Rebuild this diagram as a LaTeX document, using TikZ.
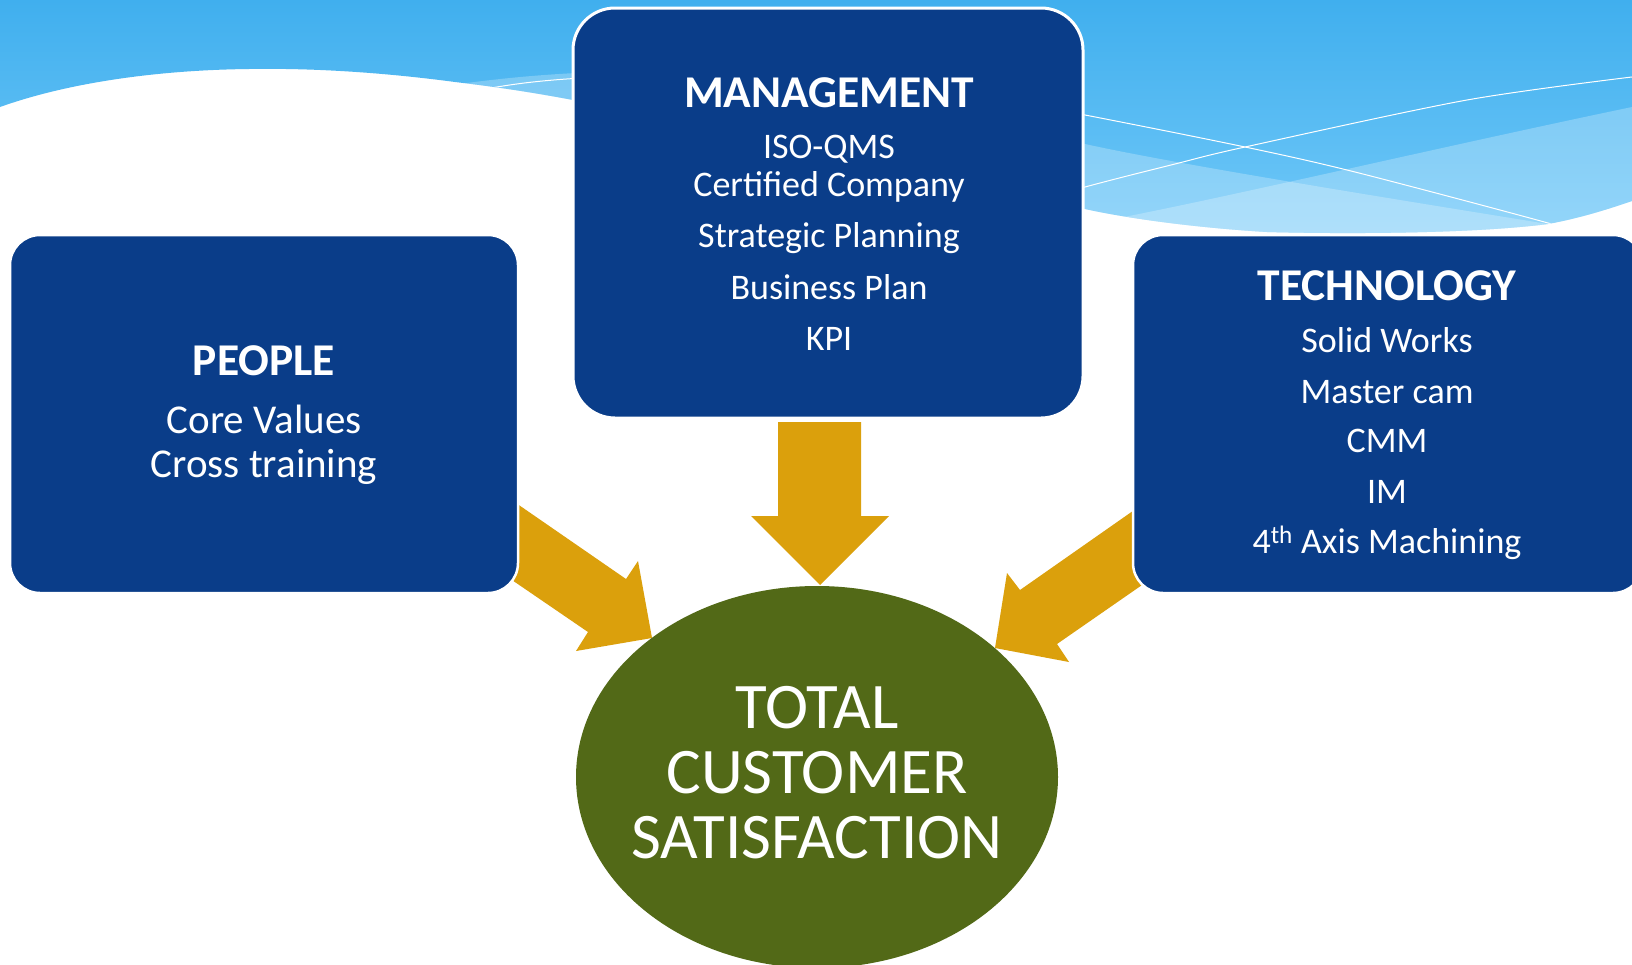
\documentclass[tikz,border=0pt]{standalone}
\usepackage{fontspec}
\setmainfont{Carlito}
\usetikzlibrary{shapes.geometric}
\definecolor{boxblue}{RGB}{10,61,137}
\definecolor{arrowgold}{RGB}{219,160,12}
\definecolor{tcsgreen}{RGB}{82,105,23}
\definecolor{skytop}{RGB}{64,175,238}
\definecolor{skybot}{RGB}{112,200,248}
\begin{document}
\begin{tikzpicture}[x=1pt,y=-1pt,
  box/.style={fill=boxblue, draw=white, line width=2.5pt, rounded corners=30pt, inner sep=0pt},
  head/.style={text=white, font=\fontsize{45.5}{54}\selectfont\bfseries, anchor=base, inner sep=0pt},
  item/.style={text=white, font=\fontsize{36}{43}\selectfont, anchor=base, inner sep=0pt},
  pitem/.style={text=white, font=\fontsize{41}{49}\selectfont, anchor=base, inner sep=0pt},
  big/.style={text=white, font=\fontsize{65}{68}\selectfont, anchor=base, inner sep=0pt},
  blockarrow/.style={fill=arrowgold},
  band/.style={fill=white, opacity=0.25},
  thin/.style={draw=white, line width=1pt}]
\useasboundingbox (0,0) rectangle (1632,964);
\clip (0,0) rectangle (1632,964);
\fill[white] (0,0) rectangle (1632,964);
\def\skypath{(0,0) -- (1632,0) -- (1632,201) .. controls (1600,212) and (1575,219) .. (1548,224) .. controls (1470,234) and (1340,234) .. (1267,232) .. controls (1200,228) and (1130,219) .. (1085,209) -- (573,100) .. controls (520,90) and (480,85) .. (455,82) .. controls (380,72) and (310,68) .. (249,69) .. controls (160,70) and (70,82) .. (0,107) -- cycle}
\shade[top color=skytop, bottom color=skybot] \skypath;
\begin{scope}
  \clip \skypath;
  \path[band] (850,90) -- (1085,144) .. controls (1180,165) and (1400,200) .. (1560,226) -- (1560,300) -- (850,300) -- cycle;
  \path[band] (950,250) -- (1129,216) .. controls (1250,192) and (1450,145) .. (1632,107) -- (1640,300) -- (950,300) -- cycle;
  \path[band] (420,90) .. controls (480,80) and (540,74) .. (600,72) -- (600,130) -- (420,130) -- cycle;
  \draw[thin] plot[smooth] coordinates {(950,90) (1085,115) (1245,147) (1355,172) (1548,223) (1600,240)};
  \draw[thin] plot[smooth] coordinates {(950,225) (1085,187) (1175,164) (1245,147) (1467,100) (1640,76)};
  \draw[thin] (470,92) .. controls (510,84) and (540,80) .. (600,77);
\end{scope}
% block arrows
\fill[blockarrow] (778,422) -- (861,422) -- (861,516) -- (889,516) -- (820,585) -- (751,516) -- (778,516) -- cycle;
\fill[blockarrow] (500,492) -- (626,579) -- (638,561) -- (652,638) -- (576,651) -- (588,632) -- (490,565) -- cycle;
\fill[blockarrow] (1150,499) -- (1020,590) -- (1007,573) -- (995,648) -- (1069,662) -- (1057,644) -- (1155,576) -- cycle;
% boxes
\node[box, minimum width=508pt, minimum height=358pt] (people) at (264,414) {};
\node[box, rounded corners=42pt, line width=3pt, minimum width=510pt, minimum height=410pt] (mgmt) at (828,213) {};
\node[box, minimum width=510pt, minimum height=358pt] (tech) at (1388,414) {};
\node[ellipse, fill=tcsgreen, inner sep=0pt, minimum width=482pt, minimum height=382pt] (tcs) at (817,777) {};
% texts
\node[head] (mh) at (829,107) {MANAGEMENT};
\node[item] (m1) at (829,158) {ISO-QMS};
\node[item] (m2) at (829,196) {Certified Company};
\node[item] (m3) at (829,247) {Strategic Planning};
\node[item] (m4) at (829,299) {Business Plan};
\node[item] (m5) at (829,350) {KPI};
\node[head] (ph) at (264,375) {PEOPLE};
\node[pitem] (p1) at (264,433) {Core Values};
\node[pitem] (p2) at (264,477) {Cross training};
\node[head] (th) at (1387,300) {TECHNOLOGY};
\node[item] (t1) at (1387,352) {Solid Works};
\node[item] (t2) at (1387,403) {Master cam};
\node[item] (t3) at (1387,452) {CMM};
\node[item] (t4) at (1387,503) {IM};
\node[item] (t5) at (1387,553) {4\textsuperscript{th} Axis Machining};
\node[big] (c1) at (817,728) {TOTAL};
\node[big] (c2) at (817,793) {CUSTOMER};
\node[big] (c3) at (817,858) {SATISFACTION};
\end{tikzpicture}
\end{document}
